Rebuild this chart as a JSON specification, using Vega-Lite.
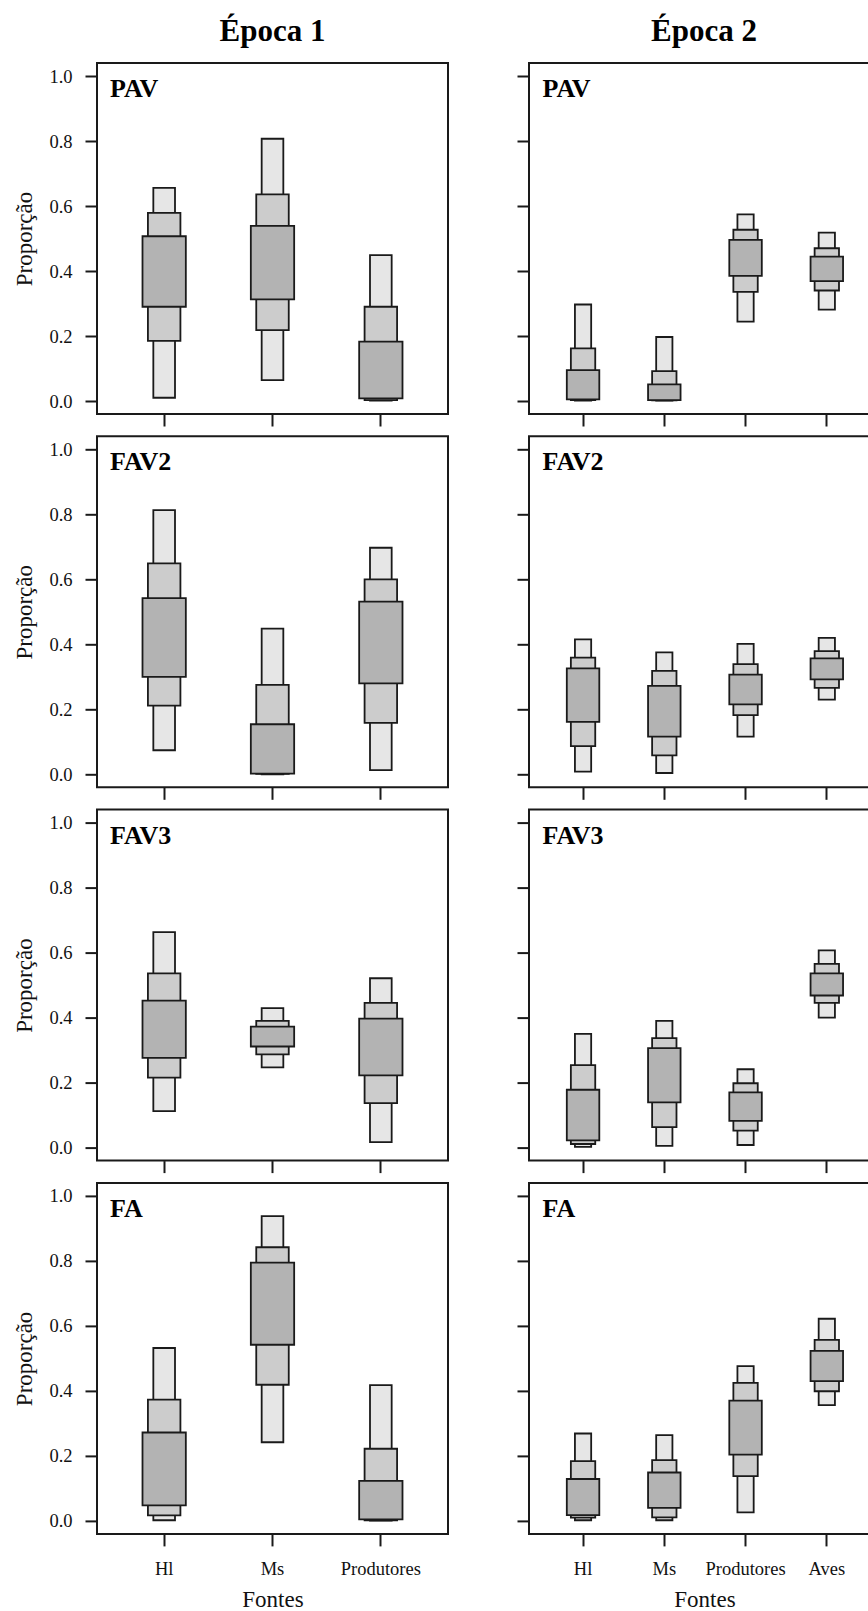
{
"$schema": "https://vega.github.io/schema/vega-lite/v6.json",
"padding": {"left": 12, "top": 15, "right": 0, "bottom": 0},
"config": {
 "font": "Liberation Serif",
 "view": {"stroke": "#1a1a1a", "strokeWidth": 2},
 "axis": {"domain": false, "grid": false, "tickColor": "#1a1a1a", "tickWidth": 2, "tickSize": 12, "labelFont": "Liberation Serif", "titleFont": "Liberation Serif", "labelFontSize": 18.5, "titleFontSize": 23, "titleFontWeight": "normal", "labelColor": "#111111", "titleColor": "#111111"},
 "axisX": {"labelAngle": 0, "labelPadding": 13.5, "titlePadding": 11},
 "axisY": {"labelPadding": 13, "titlePadding": 12},
 "bar": {"stroke": "#1a1a1a", "strokeWidth": 1.8},
 "text": {"font": "Liberation Serif", "fontSize": 26, "fontWeight": "bold", "color": "#000000", "align": "left", "baseline": "alphabetic"}
},
"datasets": {"d": [
{"e":1,"s":"PAV","f":"Hl","l":95,"lo":0.010,"hi":0.656},
{"e":1,"s":"PAV","f":"Hl","l":75,"lo":0.185,"hi":0.579},
{"e":1,"s":"PAV","f":"Hl","l":50,"lo":0.290,"hi":0.507},
{"e":1,"s":"PAV","f":"Ms","l":95,"lo":0.064,"hi":0.807},
{"e":1,"s":"PAV","f":"Ms","l":75,"lo":0.218,"hi":0.636},
{"e":1,"s":"PAV","f":"Ms","l":50,"lo":0.313,"hi":0.539},
{"e":1,"s":"PAV","f":"Produtores","l":95,"lo":0.001,"hi":0.449},
{"e":1,"s":"PAV","f":"Produtores","l":75,"lo":0.003,"hi":0.290},
{"e":1,"s":"PAV","f":"Produtores","l":50,"lo":0.008,"hi":0.183},
{"e":1,"s":"FAV2","f":"Hl","l":95,"lo":0.074,"hi":0.813},
{"e":1,"s":"FAV2","f":"Hl","l":75,"lo":0.211,"hi":0.649},
{"e":1,"s":"FAV2","f":"Hl","l":50,"lo":0.300,"hi":0.542},
{"e":1,"s":"FAV2","f":"Ms","l":95,"lo":0.000,"hi":0.448},
{"e":1,"s":"FAV2","f":"Ms","l":75,"lo":0.001,"hi":0.275},
{"e":1,"s":"FAV2","f":"Ms","l":50,"lo":0.002,"hi":0.154},
{"e":1,"s":"FAV2","f":"Produtores","l":95,"lo":0.013,"hi":0.697},
{"e":1,"s":"FAV2","f":"Produtores","l":75,"lo":0.158,"hi":0.600},
{"e":1,"s":"FAV2","f":"Produtores","l":50,"lo":0.280,"hi":0.531},
{"e":1,"s":"FAV3","f":"Hl","l":95,"lo":0.112,"hi":0.663},
{"e":1,"s":"FAV3","f":"Hl","l":75,"lo":0.215,"hi":0.536},
{"e":1,"s":"FAV3","f":"Hl","l":50,"lo":0.276,"hi":0.452},
{"e":1,"s":"FAV3","f":"Ms","l":95,"lo":0.247,"hi":0.429},
{"e":1,"s":"FAV3","f":"Ms","l":75,"lo":0.287,"hi":0.390},
{"e":1,"s":"FAV3","f":"Ms","l":50,"lo":0.311,"hi":0.372},
{"e":1,"s":"FAV3","f":"Produtores","l":95,"lo":0.017,"hi":0.521},
{"e":1,"s":"FAV3","f":"Produtores","l":75,"lo":0.137,"hi":0.445},
{"e":1,"s":"FAV3","f":"Produtores","l":50,"lo":0.222,"hi":0.397},
{"e":1,"s":"FA","f":"Hl","l":95,"lo":0.002,"hi":0.532},
{"e":1,"s":"FA","f":"Hl","l":75,"lo":0.017,"hi":0.373},
{"e":1,"s":"FA","f":"Hl","l":50,"lo":0.048,"hi":0.272},
{"e":1,"s":"FA","f":"Ms","l":95,"lo":0.242,"hi":0.938},
{"e":1,"s":"FA","f":"Ms","l":75,"lo":0.419,"hi":0.842},
{"e":1,"s":"FA","f":"Ms","l":50,"lo":0.542,"hi":0.795},
{"e":1,"s":"FA","f":"Produtores","l":95,"lo":0.001,"hi":0.418},
{"e":1,"s":"FA","f":"Produtores","l":75,"lo":0.002,"hi":0.222},
{"e":1,"s":"FA","f":"Produtores","l":50,"lo":0.005,"hi":0.123},
{"e":2,"s":"PAV","f":"Hl","l":95,"lo":0.001,"hi":0.297},
{"e":2,"s":"PAV","f":"Hl","l":75,"lo":0.003,"hi":0.162},
{"e":2,"s":"PAV","f":"Hl","l":50,"lo":0.005,"hi":0.095},
{"e":2,"s":"PAV","f":"Ms","l":95,"lo":0.001,"hi":0.197},
{"e":2,"s":"PAV","f":"Ms","l":75,"lo":0.002,"hi":0.092},
{"e":2,"s":"PAV","f":"Ms","l":50,"lo":0.003,"hi":0.051},
{"e":2,"s":"PAV","f":"Produtores","l":95,"lo":0.244,"hi":0.574},
{"e":2,"s":"PAV","f":"Produtores","l":75,"lo":0.336,"hi":0.527},
{"e":2,"s":"PAV","f":"Produtores","l":50,"lo":0.385,"hi":0.496},
{"e":2,"s":"PAV","f":"Aves","l":95,"lo":0.281,"hi":0.518},
{"e":2,"s":"PAV","f":"Aves","l":75,"lo":0.340,"hi":0.470},
{"e":2,"s":"PAV","f":"Aves","l":50,"lo":0.369,"hi":0.444},
{"e":2,"s":"FAV2","f":"Hl","l":95,"lo":0.008,"hi":0.415},
{"e":2,"s":"FAV2","f":"Hl","l":75,"lo":0.087,"hi":0.359},
{"e":2,"s":"FAV2","f":"Hl","l":50,"lo":0.161,"hi":0.326},
{"e":2,"s":"FAV2","f":"Ms","l":95,"lo":0.004,"hi":0.375},
{"e":2,"s":"FAV2","f":"Ms","l":75,"lo":0.058,"hi":0.318},
{"e":2,"s":"FAV2","f":"Ms","l":50,"lo":0.116,"hi":0.272},
{"e":2,"s":"FAV2","f":"Produtores","l":95,"lo":0.116,"hi":0.401},
{"e":2,"s":"FAV2","f":"Produtores","l":75,"lo":0.182,"hi":0.339},
{"e":2,"s":"FAV2","f":"Produtores","l":50,"lo":0.215,"hi":0.307},
{"e":2,"s":"FAV2","f":"Aves","l":95,"lo":0.230,"hi":0.420},
{"e":2,"s":"FAV2","f":"Aves","l":75,"lo":0.266,"hi":0.379},
{"e":2,"s":"FAV2","f":"Aves","l":50,"lo":0.292,"hi":0.357},
{"e":2,"s":"FAV3","f":"Hl","l":95,"lo":0.002,"hi":0.350},
{"e":2,"s":"FAV3","f":"Hl","l":75,"lo":0.011,"hi":0.254},
{"e":2,"s":"FAV3","f":"Hl","l":50,"lo":0.022,"hi":0.178},
{"e":2,"s":"FAV3","f":"Ms","l":95,"lo":0.005,"hi":0.390},
{"e":2,"s":"FAV3","f":"Ms","l":75,"lo":0.063,"hi":0.337},
{"e":2,"s":"FAV3","f":"Ms","l":50,"lo":0.139,"hi":0.306},
{"e":2,"s":"FAV3","f":"Produtores","l":95,"lo":0.008,"hi":0.241},
{"e":2,"s":"FAV3","f":"Produtores","l":75,"lo":0.052,"hi":0.198},
{"e":2,"s":"FAV3","f":"Produtores","l":50,"lo":0.082,"hi":0.170},
{"e":2,"s":"FAV3","f":"Aves","l":95,"lo":0.400,"hi":0.607},
{"e":2,"s":"FAV3","f":"Aves","l":75,"lo":0.445,"hi":0.565},
{"e":2,"s":"FAV3","f":"Aves","l":50,"lo":0.468,"hi":0.536},
{"e":2,"s":"FA","f":"Hl","l":95,"lo":0.002,"hi":0.269},
{"e":2,"s":"FA","f":"Hl","l":75,"lo":0.010,"hi":0.184},
{"e":2,"s":"FA","f":"Hl","l":50,"lo":0.018,"hi":0.129},
{"e":2,"s":"FA","f":"Ms","l":95,"lo":0.002,"hi":0.264},
{"e":2,"s":"FA","f":"Ms","l":75,"lo":0.011,"hi":0.187},
{"e":2,"s":"FA","f":"Ms","l":50,"lo":0.040,"hi":0.149},
{"e":2,"s":"FA","f":"Produtores","l":95,"lo":0.026,"hi":0.476},
{"e":2,"s":"FA","f":"Produtores","l":75,"lo":0.138,"hi":0.425},
{"e":2,"s":"FA","f":"Produtores","l":50,"lo":0.204,"hi":0.370},
{"e":2,"s":"FA","f":"Aves","l":95,"lo":0.356,"hi":0.622},
{"e":2,"s":"FA","f":"Aves","l":75,"lo":0.399,"hi":0.557},
{"e":2,"s":"FA","f":"Aves","l":50,"lo":0.430,"hi":0.523}
]},
"data": {"name": "d"},
"columns": 2,
"bounds": "flush",
"spacing": {"row": 22.3, "column": 81},
"concat": [
{"width": 351, "height": 351,
 "title": {"text": "Época 1", "fontSize": 31, "fontWeight": "bold", "font": "Liberation Serif", "anchor": "middle", "frame": "group", "offset": -9, "baseline": "alphabetic", "color": "#000000"},
 "transform": [{"filter": "datum.e == 1 && datum.s == 'PAV'"}],
 "encoding": {
  "x": {"field": "f", "type": "nominal", "scale": {"type": "band", "domain": ["Hl","Ms","Produtores"], "paddingInner": 0, "paddingOuter": 0.12}, "axis": {"labels": false, "title": null}},
  "y": {"field": "lo", "type": "quantitative", "scale": {"domain": [-0.04, 1.04], "nice": false, "zero": false}, "axis": {"values": [0,0.2,0.4,0.6,0.8,1], "format": ".1f", "title": "Proporção"}},
  "y2": {"field": "hi"}},
 "layer": [
  {"transform": [{"filter": "datum.l == 95"}], "mark": {"type": "bar", "width": {"band": 0.2}, "fill": "#E6E6E6"}},
  {"transform": [{"filter": "datum.l == 75"}], "mark": {"type": "bar", "width": {"band": 0.3}, "fill": "#CCCCCC"}},
  {"transform": [{"filter": "datum.l == 50"}], "mark": {"type": "bar", "width": {"band": 0.4}, "fill": "#B3B3B3"}},
  {"transform": [{"filter": "datum.l == 95 && datum.f == 'Hl'"}], "mark": {"type": "text"}, "encoding": {"x": {"field": "f", "type": "nominal", "bandPosition": 0}, "y": {"datum": 0.935, "type": "quantitative"}, "text": {"field": "s"}}}
 ]},
{"width": 342, "height": 351,
 "title": {"text": "Época 2", "fontSize": 31, "fontWeight": "bold", "font": "Liberation Serif", "anchor": "middle", "frame": "group", "offset": -9, "dx": 4, "baseline": "alphabetic", "color": "#000000"},
 "transform": [{"filter": "datum.e == 2 && datum.s == 'PAV'"}],
 "encoding": {
  "x": {"field": "f", "type": "nominal", "scale": {"type": "band", "domain": ["Hl","Ms","Produtores","Aves"], "paddingInner": 0, "paddingOuter": 0.1046, "align": 0.79}, "axis": {"labels": false, "title": null}},
  "y": {"field": "lo", "type": "quantitative", "scale": {"domain": [-0.04, 1.04], "nice": false, "zero": false}, "axis": {"values": [0,0.2,0.4,0.6,0.8,1], "labels": false, "title": null}},
  "y2": {"field": "hi"}},
 "layer": [
  {"transform": [{"filter": "datum.l == 95"}], "mark": {"type": "bar", "width": {"band": 0.2}, "fill": "#E6E6E6"}},
  {"transform": [{"filter": "datum.l == 75"}], "mark": {"type": "bar", "width": {"band": 0.3}, "fill": "#CCCCCC"}},
  {"transform": [{"filter": "datum.l == 50"}], "mark": {"type": "bar", "width": {"band": 0.4}, "fill": "#B3B3B3"}},
  {"transform": [{"filter": "datum.l == 95 && datum.f == 'Hl'"}], "mark": {"type": "text"}, "encoding": {"x": {"field": "f", "type": "nominal", "bandPosition": 0}, "y": {"datum": 0.935, "type": "quantitative"}, "text": {"field": "s"}}}
 ]},
{"width": 351, "height": 351,
 "transform": [{"filter": "datum.e == 1 && datum.s == 'FAV2'"}],
 "encoding": {
  "x": {"field": "f", "type": "nominal", "scale": {"type": "band", "domain": ["Hl","Ms","Produtores"], "paddingInner": 0, "paddingOuter": 0.12}, "axis": {"labels": false, "title": null}},
  "y": {"field": "lo", "type": "quantitative", "scale": {"domain": [-0.04, 1.04], "nice": false, "zero": false}, "axis": {"values": [0,0.2,0.4,0.6,0.8,1], "format": ".1f", "title": "Proporção"}},
  "y2": {"field": "hi"}},
 "layer": [
  {"transform": [{"filter": "datum.l == 95"}], "mark": {"type": "bar", "width": {"band": 0.2}, "fill": "#E6E6E6"}},
  {"transform": [{"filter": "datum.l == 75"}], "mark": {"type": "bar", "width": {"band": 0.3}, "fill": "#CCCCCC"}},
  {"transform": [{"filter": "datum.l == 50"}], "mark": {"type": "bar", "width": {"band": 0.4}, "fill": "#B3B3B3"}},
  {"transform": [{"filter": "datum.l == 95 && datum.f == 'Hl'"}], "mark": {"type": "text"}, "encoding": {"x": {"field": "f", "type": "nominal", "bandPosition": 0}, "y": {"datum": 0.935, "type": "quantitative"}, "text": {"field": "s"}}}
 ]},
{"width": 342, "height": 351,
 "transform": [{"filter": "datum.e == 2 && datum.s == 'FAV2'"}],
 "encoding": {
  "x": {"field": "f", "type": "nominal", "scale": {"type": "band", "domain": ["Hl","Ms","Produtores","Aves"], "paddingInner": 0, "paddingOuter": 0.1046, "align": 0.79}, "axis": {"labels": false, "title": null}},
  "y": {"field": "lo", "type": "quantitative", "scale": {"domain": [-0.04, 1.04], "nice": false, "zero": false}, "axis": {"values": [0,0.2,0.4,0.6,0.8,1], "labels": false, "title": null}},
  "y2": {"field": "hi"}},
 "layer": [
  {"transform": [{"filter": "datum.l == 95"}], "mark": {"type": "bar", "width": {"band": 0.2}, "fill": "#E6E6E6"}},
  {"transform": [{"filter": "datum.l == 75"}], "mark": {"type": "bar", "width": {"band": 0.3}, "fill": "#CCCCCC"}},
  {"transform": [{"filter": "datum.l == 50"}], "mark": {"type": "bar", "width": {"band": 0.4}, "fill": "#B3B3B3"}},
  {"transform": [{"filter": "datum.l == 95 && datum.f == 'Hl'"}], "mark": {"type": "text"}, "encoding": {"x": {"field": "f", "type": "nominal", "bandPosition": 0}, "y": {"datum": 0.935, "type": "quantitative"}, "text": {"field": "s"}}}
 ]},
{"width": 351, "height": 351,
 "transform": [{"filter": "datum.e == 1 && datum.s == 'FAV3'"}],
 "encoding": {
  "x": {"field": "f", "type": "nominal", "scale": {"type": "band", "domain": ["Hl","Ms","Produtores"], "paddingInner": 0, "paddingOuter": 0.12}, "axis": {"labels": false, "title": null}},
  "y": {"field": "lo", "type": "quantitative", "scale": {"domain": [-0.04, 1.04], "nice": false, "zero": false}, "axis": {"values": [0,0.2,0.4,0.6,0.8,1], "format": ".1f", "title": "Proporção"}},
  "y2": {"field": "hi"}},
 "layer": [
  {"transform": [{"filter": "datum.l == 95"}], "mark": {"type": "bar", "width": {"band": 0.2}, "fill": "#E6E6E6"}},
  {"transform": [{"filter": "datum.l == 75"}], "mark": {"type": "bar", "width": {"band": 0.3}, "fill": "#CCCCCC"}},
  {"transform": [{"filter": "datum.l == 50"}], "mark": {"type": "bar", "width": {"band": 0.4}, "fill": "#B3B3B3"}},
  {"transform": [{"filter": "datum.l == 95 && datum.f == 'Hl'"}], "mark": {"type": "text"}, "encoding": {"x": {"field": "f", "type": "nominal", "bandPosition": 0}, "y": {"datum": 0.935, "type": "quantitative"}, "text": {"field": "s"}}}
 ]},
{"width": 342, "height": 351,
 "transform": [{"filter": "datum.e == 2 && datum.s == 'FAV3'"}],
 "encoding": {
  "x": {"field": "f", "type": "nominal", "scale": {"type": "band", "domain": ["Hl","Ms","Produtores","Aves"], "paddingInner": 0, "paddingOuter": 0.1046, "align": 0.79}, "axis": {"labels": false, "title": null}},
  "y": {"field": "lo", "type": "quantitative", "scale": {"domain": [-0.04, 1.04], "nice": false, "zero": false}, "axis": {"values": [0,0.2,0.4,0.6,0.8,1], "labels": false, "title": null}},
  "y2": {"field": "hi"}},
 "layer": [
  {"transform": [{"filter": "datum.l == 95"}], "mark": {"type": "bar", "width": {"band": 0.2}, "fill": "#E6E6E6"}},
  {"transform": [{"filter": "datum.l == 75"}], "mark": {"type": "bar", "width": {"band": 0.3}, "fill": "#CCCCCC"}},
  {"transform": [{"filter": "datum.l == 50"}], "mark": {"type": "bar", "width": {"band": 0.4}, "fill": "#B3B3B3"}},
  {"transform": [{"filter": "datum.l == 95 && datum.f == 'Hl'"}], "mark": {"type": "text"}, "encoding": {"x": {"field": "f", "type": "nominal", "bandPosition": 0}, "y": {"datum": 0.935, "type": "quantitative"}, "text": {"field": "s"}}}
 ]},
{"width": 351, "height": 351,
 "transform": [{"filter": "datum.e == 1 && datum.s == 'FA'"}],
 "encoding": {
  "x": {"field": "f", "type": "nominal", "scale": {"type": "band", "domain": ["Hl","Ms","Produtores"], "paddingInner": 0, "paddingOuter": 0.12}, "axis": {"title": "Fontes"}},
  "y": {"field": "lo", "type": "quantitative", "scale": {"domain": [-0.04, 1.04], "nice": false, "zero": false}, "axis": {"values": [0,0.2,0.4,0.6,0.8,1], "format": ".1f", "title": "Proporção"}},
  "y2": {"field": "hi"}},
 "layer": [
  {"transform": [{"filter": "datum.l == 95"}], "mark": {"type": "bar", "width": {"band": 0.2}, "fill": "#E6E6E6"}},
  {"transform": [{"filter": "datum.l == 75"}], "mark": {"type": "bar", "width": {"band": 0.3}, "fill": "#CCCCCC"}},
  {"transform": [{"filter": "datum.l == 50"}], "mark": {"type": "bar", "width": {"band": 0.4}, "fill": "#B3B3B3"}},
  {"transform": [{"filter": "datum.l == 95 && datum.f == 'Hl'"}], "mark": {"type": "text"}, "encoding": {"x": {"field": "f", "type": "nominal", "bandPosition": 0}, "y": {"datum": 0.935, "type": "quantitative"}, "text": {"field": "s"}}}
 ]},
{"width": 342, "height": 351,
 "transform": [{"filter": "datum.e == 2 && datum.s == 'FA'"}],
 "encoding": {
  "x": {"field": "f", "type": "nominal", "scale": {"type": "band", "domain": ["Hl","Ms","Produtores","Aves"], "paddingInner": 0, "paddingOuter": 0.1046, "align": 0.79}, "axis": {"title": "Fontes", "titleX": 175.5}},
  "y": {"field": "lo", "type": "quantitative", "scale": {"domain": [-0.04, 1.04], "nice": false, "zero": false}, "axis": {"values": [0,0.2,0.4,0.6,0.8,1], "labels": false, "title": null}},
  "y2": {"field": "hi"}},
 "layer": [
  {"transform": [{"filter": "datum.l == 95"}], "mark": {"type": "bar", "width": {"band": 0.2}, "fill": "#E6E6E6"}},
  {"transform": [{"filter": "datum.l == 75"}], "mark": {"type": "bar", "width": {"band": 0.3}, "fill": "#CCCCCC"}},
  {"transform": [{"filter": "datum.l == 50"}], "mark": {"type": "bar", "width": {"band": 0.4}, "fill": "#B3B3B3"}},
  {"transform": [{"filter": "datum.l == 95 && datum.f == 'Hl'"}], "mark": {"type": "text"}, "encoding": {"x": {"field": "f", "type": "nominal", "bandPosition": 0}, "y": {"datum": 0.935, "type": "quantitative"}, "text": {"field": "s"}}}
 ]}
]
}
